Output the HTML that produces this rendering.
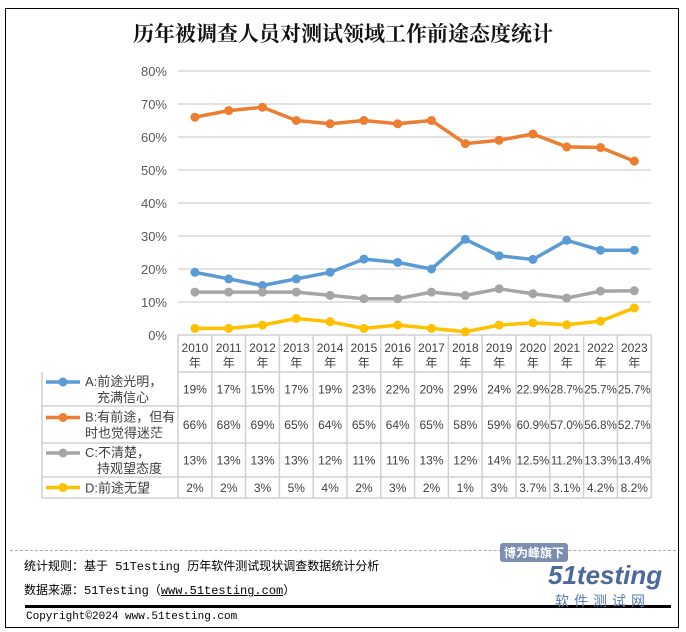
<!DOCTYPE html>
<html><head><meta charset="utf-8">
<style>
body{margin:0;background:#fff;width:686px;height:632px;overflow:hidden;position:relative;font-family:"Liberation Sans","Noto Sans CJK SC",sans-serif}
#frame{position:absolute;left:5px;top:8px;width:674px;height:620px;border:1.5px solid #000;box-sizing:border-box}
.t{position:absolute;white-space:nowrap}
.mono{font-family:"Liberation Mono","Noto Sans CJK SC",monospace;font-size:12px;color:#000}
</style></head><body>
<div id="frame"></div>
<div class="t" style="left:0;width:686px;text-align:center;top:18px;font-family:'Liberation Serif','Noto Serif CJK SC',serif;font-weight:bold;font-size:21px;color:#111">历年被调查人员对测试领域工作前途态度统计</div>
<svg id="chart" width="686" height="632" style="position:absolute;left:0;top:0"></svg>
<div style="position:absolute;left:10px;top:550px;width:666px;border-top:1px dashed #aaa"></div>
<div class="t mono" style="left:24px;top:557px">统计规则：基于 51Testing 历年软件测试现状调查数据统计分析</div>
<div class="t mono" style="left:24px;top:581px">数据来源：51Testing（<span style="text-decoration:underline">www.51testing.com</span>）</div>
<div style="position:absolute;left:25px;top:605px;width:646px;height:3px;background:#000"></div>
<div class="t mono" style="left:26px;top:611px;font-size:11px">Copyright©2024 www.51testing.com</div>
<div class="t" style="left:500px;top:543px;font-size:12px;font-weight:bold;color:#fff;background:#7d8fb0;padding:1px 4px;border-radius:3px">博为峰旗下</div>
<div class="t" style="left:548px;top:560px;font-size:26px;font-weight:bold;font-style:italic;color:#2c4f8c;opacity:.85">51testing</div>
<div class="t" style="left:555px;top:591px;font-size:14px;color:#5a7ab5;letter-spacing:5px">软件测试网</div>
<script>
const years=["2010","2011","2012","2013","2014","2015","2016","2017","2018","2019","2020","2021","2022","2023"];
const seriesA=[19,17,15,17,19,23,22,20,29,24,22.9,28.7,25.7,25.7];
const seriesB=[66,68,69,65,64,65,64,65,58,59,60.9,57.0,56.8,52.7];
const seriesC=[13,13,13,13,12,11,11,13,12,14,12.5,11.2,13.3,13.4];
const seriesD=[2,2,3,5,4,2,3,2,1,3,3.7,3.1,4.2,8.2];
const labelsA=["19%","17%","15%","17%","19%","23%","22%","20%","29%","24%","22.9%","28.7%","25.7%","25.7%"];
const labelsB=["66%","68%","69%","65%","64%","65%","64%","65%","58%","59%","60.9%","57.0%","56.8%","52.7%"];
const labelsC=["13%","13%","13%","13%","12%","11%","11%","13%","12%","14%","12.5%","11.2%","13.3%","13.4%"];
const labelsD=["2%","2%","3%","5%","4%","2%","3%","2%","1%","3%","3.7%","3.1%","4.2%","8.2%"];
const seriesNames=[["A:前途光明，","充满信心"],["B:有前途，但有","时也觉得迷茫"],["C:不清楚，","持观望态度"],["D:前途无望"]];
const colors=["#5b9bd5","#ed7d31","#a5a5a5","#ffc000"];
const yTicks=[0,10,20,30,40,50,60,70,80];

const svg=document.getElementById('chart');const NS='http://www.w3.org/2000/svg';
const X0=178,CW=33.8,Y0=335,PY=3.3;
const x=i=>X0+CW*(i+0.5);const y=v=>Y0-v*PY;
function mk(t,a){const e=document.createElementNS(NS,t);for(const k in a)e.setAttribute(k,a[k]);svg.appendChild(e);return e;}
yTicks.forEach(v=>{
  const g=mk('line',{x1:X0,x2:X0+CW*14,y1:y(v),y2:y(v),stroke:v>0?'#d9d9d9':'#d0d0d0','stroke-width':1.5});
  
  
  const t=mk('text',{x:167,y:y(v)+5,'text-anchor':'end','font-size':13,fill:'#595959'});t.textContent=v+'%';
  
  
});
const rows=[[335,372],[372,406],[406,443],[443,477],[477,498]];
const tl='#d0d0d0';
rows.forEach((r,ri)=>{const l=mk('line',{x1:ri==0?X0:42,x2:X0+CW*14,y1:r[1],y2:r[1],stroke:tl,'stroke-width':1.5});
  
  });
for(let i=0;i<=14;i++){const l=mk('line',{x1:X0+CW*i,x2:X0+CW*i,y1:335,y2:498,stroke:tl,'stroke-width':1.5});
  
  }
const lv=mk('line',{x1:42,x2:42,y1:372,y2:498,stroke:tl,'stroke-width':1.5});


years.forEach((yr,i)=>{
  const t=mk('text',{x:x(i),y:352,'text-anchor':'middle','font-size':12,fill:'#404040'});t.textContent=yr;
  
  
  const t2=mk('text',{x:x(i),y:367,'text-anchor':'middle','font-size':12,fill:'#404040'});t2.textContent='年';
  
  
});
const all=[seriesA,seriesB,seriesC,seriesD];const labs=[labelsA,labelsB,labelsC,labelsD];const keys=['a','b','c','d'];
all.forEach((s,si)=>{
  const p=mk('polyline',{points:s.map((v,i)=>x(i)+','+y(v)).join(' '),fill:'none',stroke:colors[si],'stroke-width':3.5,'stroke-linejoin':'round'});
  
  
  s.forEach((v,i)=>{const c=mk('circle',{cx:x(i),cy:y(v),r:4.5,fill:colors[si]});
    
    });
  const r=rows[si+1];const cy=(r[0]+r[1])/2;
  labs[si].forEach((lb,i)=>{const t=mk('text',{x:x(i),y:cy+4.5,'text-anchor':'middle','font-size':lb.length>4?11.5:12,fill:'#404040'});t.textContent=lb;
    
    });
  const ly=cy-(seriesNames[si].length>1?7:0);
  const ll=mk('line',{x1:46,x2:80,y1:ly,y2:ly,stroke:colors[si],'stroke-width':3.5});
  
  
  const lc=mk('circle',{cx:63,cy:ly,r:4.5,fill:colors[si]});
  
  
  seriesNames[si].forEach((nm,k)=>{
    const n=seriesNames[si].length;
    const t=mk('text',{x:k==0?85:(si==1?85:97),y:cy+5+(n>1?(k==0?-8:8):0),'font-size':13,fill:'#404040'});t.textContent=nm;
    
    
  });
});
</script>
</body></html>
